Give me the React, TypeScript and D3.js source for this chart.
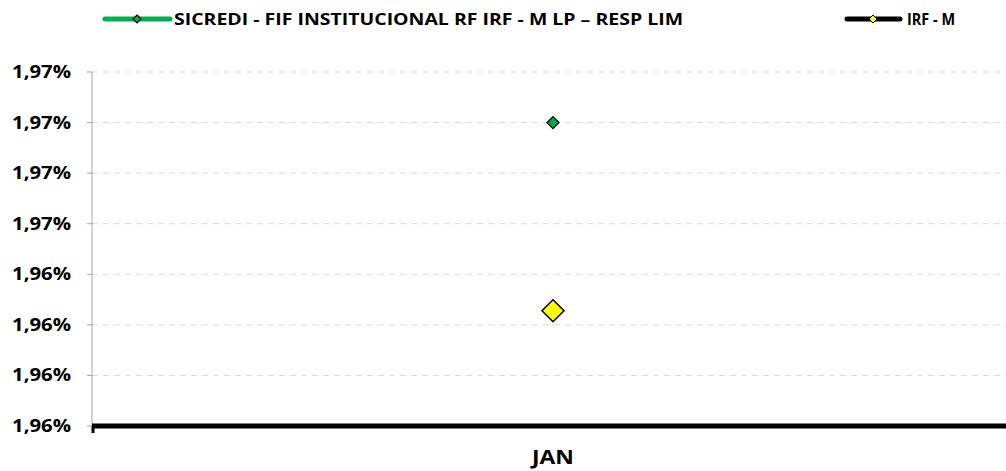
import React from 'react';
import * as d3 from 'd3';

// chart data
const categories = ['JAN'];
const fundSeries = [1.966];
const indexSeries = [1.96414];
const yTicks = [1.963, 1.9635, 1.964, 1.9645, 1.965, 1.9655, 1.966, 1.9665];
const legendNames = ['SICREDI - FIF INSTITUCIONAL RF IRF - M LP – RESP LIM', 'IRF - M'];

const width = 1006;
const height = 471;
const margin = { left: 92, right: -8, top: 72, bottom: 45 };
const font = "'Open Sans', sans-serif";

const fmt = (v: number) => (Math.round(v * 100) / 100).toFixed(2).replace('.', ',') + '%';

const diamond = (cx: number, cy: number, r: number) =>
  `M${cx},${cy - r}L${cx + r},${cy}L${cx},${cy + r}L${cx - r},${cy}Z`;

export default function App() {
  const x = d3
    .scaleBand()
    .domain(categories)
    .range([margin.left, width - margin.right]);
  const y = d3
    .scaleLinear()
    .domain([yTicks[0], yTicks[yTicks.length - 1]])
    .range([height - margin.bottom, margin.top]);
  const cx = (c: string) => (x(c) ?? 0) + x.bandwidth() / 2;
  const y0 = y(yTicks[0]);

  return (
    <svg width={width} height={height} style={{ position: 'absolute', left: 0, top: 0 }}>
      <rect width={width} height={height} fill="#fff" />
      {/* legend */}
      <g fontFamily={font} fontWeight="bold" fontSize={16} fill="#000">
        <line x1={105} x2={170} y1={19} y2={19} stroke="#00b050" strokeWidth={5} strokeLinecap="round" />
        <path d={diamond(137, 19, 4)} fill="#00b050" stroke="#000" strokeWidth={1.2} />
        <text x={174} y={25} textLength={509} lengthAdjust="spacingAndGlyphs">{legendNames[0]}</text>
        <line x1={847} x2={900} y1={19} y2={19} stroke="#000" strokeWidth={5} strokeLinecap="round" />
        <path d={diamond(873, 19, 4)} fill="#ffff00" stroke="#000" strokeWidth={1} />
        <text x={907} y={25} textLength={48} lengthAdjust="spacingAndGlyphs">{legendNames[1]}</text>
      </g>
      {/* grid */}
      {yTicks.slice(1).map((t) => (
        <line key={t} x1={margin.left} x2={width} y1={y(t)} y2={y(t)} stroke="#d9d9d9" strokeDasharray="6,5" strokeWidth={1} />
      ))}
      {/* y axis */}
      <line x1={margin.left} x2={margin.left} y1={margin.top} y2={y0} stroke="#a6a6a6" strokeWidth={1} />
      {yTicks.map((t) => (
        <g key={'t' + t}>
          <line x1={margin.left - 5} x2={margin.left} y1={y(t)} y2={y(t)} stroke="#a6a6a6" />
          <text x={71} y={y(t) + 6} textAnchor="end" fontFamily={font} fontWeight="bold" fontSize={17} textLength={59} lengthAdjust="spacingAndGlyphs">
            {fmt(t)}
          </text>
        </g>
      ))}
      {/* x axis */}
      <line x1={margin.left} x2={width} y1={y0} y2={y0} stroke="#000" strokeWidth={5} />
      <line x1={margin.left + 1} x2={margin.left + 1} y1={y0} y2={y0 + 7} stroke="#000" strokeWidth={3} />
      {categories.map((c) => (
        <text key={c} x={cx(c)} y={464} textAnchor="middle" fontFamily={font} fontWeight="bold" fontSize={19} textLength={42} lengthAdjust="spacingAndGlyphs">
          {c}
        </text>
      ))}
      {/* points */}
      {categories.map((c, i) => (
        <g key={'p' + c}>
          <path d={diamond(cx(c), y(fundSeries[i]), 6)} fill="#00a651" stroke="#000" strokeWidth={1.2} />
          <path d={diamond(cx(c), y(indexSeries[i]), 11)} fill="#ffff00" stroke="#000" strokeWidth={1.5} />
        </g>
      ))}
    </svg>
  );
}
